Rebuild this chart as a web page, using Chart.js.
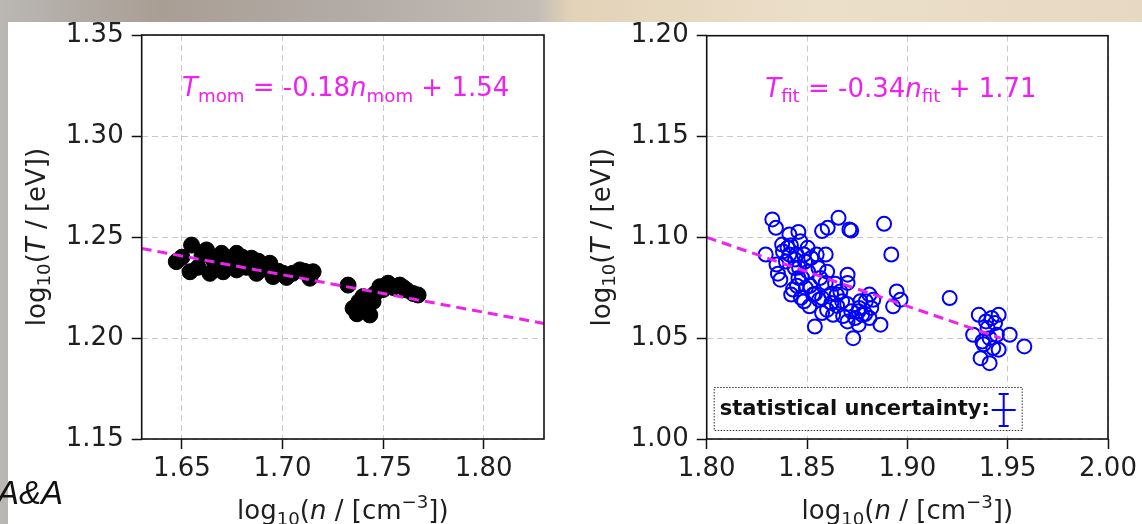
<!DOCTYPE html>
<html lang="en">
<head>
<meta charset="UTF-8">
<title>Temperature vs density</title>
<script src="https://cdn.jsdelivr.net/npm/chart.js"></script>
<style>
  html, body { margin: 0; padding: 0; }
  body {
    width: 1142px; height: 524px; overflow: hidden; position: relative;
    background: linear-gradient(90deg, #bab7b4 0%, #a99e94 14%, #b2aba5 30%, #c3bdb6 47%, #e2d2b8 50%, #ecdfca 72%, #e6d8c2 100%);
  }
  .sheet { position: absolute; left: 8px; top: 22px; right: 0; bottom: 0; background: #fff; }
  canvas { position: absolute; top: 0; }
  #left { left: 0; }
  #right { left: 570px; }
  .journal { position: absolute; left: -3px; top: 474px; font: italic 33px "Liberation Sans", Arial, sans-serif; color: #111; }
</style>
</head>
<body>
<div class="sheet"></div>
<canvas id="left" width="570" height="524"></canvas>
<canvas id="right" width="572" height="524"></canvas>
<div class="journal">A&amp;A</div>

<script>
// left panel: moments
const leftN = [1.6472, 1.6500, 1.6548, 1.6540, 1.6580, 1.6600, 1.6622, 1.6639, 1.6660, 1.6680, 1.6697, 1.6705,
  1.6730, 1.6750, 1.6772, 1.6772, 1.6800, 1.6820, 1.6846, 1.6871, 1.6880, 1.6900, 1.6937, 1.6953, 1.6980,
  1.7003, 1.7020, 1.7050, 1.7086, 1.7110, 1.7136, 1.7152,
  1.7326, 1.7351, 1.7370, 1.7380, 1.7400, 1.7420, 1.7434, 1.7450, 1.7460, 1.7484, 1.7500, 1.7525, 1.7550,
  1.7583, 1.7600, 1.7616, 1.7650, 1.7674];
const leftT = [1.2378, 1.2400, 1.2460, 1.2328, 1.2350, 1.2410, 1.2436, 1.2320, 1.2380, 1.2350, 1.2419, 1.2328,
  1.2390, 1.2360, 1.2419, 1.2337, 1.2400, 1.2350, 1.2395, 1.2320, 1.2380, 1.2340, 1.2370, 1.2304, 1.2330,
  1.2320, 1.2300, 1.2320, 1.2337, 1.2330, 1.2296, 1.2328,
  1.2262, 1.2147, 1.2120, 1.2180, 1.2205, 1.2150, 1.2114, 1.2180, 1.2220, 1.2254, 1.2240, 1.2271, 1.2250,
  1.2262, 1.2250, 1.2238, 1.2220, 1.2213];
const leftFitN = [1.63, 1.83];
const leftFitT = [1.2443, 1.2072];
const leftXTicks = [1.65, 1.70, 1.75, 1.80];
const leftYTicks = [1.15, 1.20, 1.25, 1.30, 1.35];

// right panel: fitted
const rightN = [1.8327, 1.8345, 1.8294, 1.8376, 1.8348, 1.8367, 1.8412, 1.8457, 1.8412, 1.8439, 1.8421, 1.8485,
  1.8503, 1.8521, 1.8457, 1.8494, 1.8485, 1.8530, 1.8512, 1.8575, 1.8539, 1.8557, 1.8593, 1.8566, 1.8575,
  1.8603, 1.8657, 1.8711, 1.8720, 1.8575, 1.8630, 1.8666, 1.8702, 1.8702, 1.8675, 1.8720, 1.8702, 1.8730,
  1.8757, 1.8766, 1.8775, 1.8811, 1.8820, 1.8811, 1.8866, 1.8884, 1.8920, 1.8947, 1.8966, 1.8929,
  1.8403, 1.8448, 1.8466, 1.8548, 1.8430, 1.8593, 1.8621, 1.8648, 1.8757, 1.8793,
  1.8380, 1.8395, 1.8420, 1.8440, 1.8460, 1.8475, 1.8490, 1.8505, 1.8450, 1.8470, 1.8515, 1.8540, 1.8560,
  1.8600, 1.8620, 1.8650, 1.8680, 1.8700, 1.8740, 1.8760, 1.8790, 1.8830, 1.8600, 1.8640, 1.8355,
  1.9211, 1.9356, 1.9328, 1.9374, 1.9392, 1.9365, 1.9410, 1.9428, 1.9446, 1.9455, 1.9437, 1.9455, 1.9510,
  1.9583, 1.9410, 1.9400, 1.9420, 1.9380];
const rightT = [1.1089, 1.1047, 1.0915, 1.0964, 1.0865, 1.0790, 1.1014, 1.1027, 1.0915, 1.0848, 1.0716, 1.0915,
  1.0948, 1.0898, 1.0799, 1.0749, 1.0683, 1.0716, 1.0658, 1.0699, 1.0558, 1.0848, 1.0915, 1.0799, 1.1031,
  1.1047, 1.1097, 1.1039, 1.1034, 1.0625, 1.0616, 1.0732, 1.0815, 1.0774, 1.0683, 1.0633, 1.0583, 1.0500,
  1.0567, 1.0683, 1.0616, 1.0716, 1.0650, 1.0600, 1.0567, 1.1067, 1.0915, 1.0732, 1.0691, 1.0658,
  1.0948, 1.0915, 1.0981, 1.0915, 1.0741, 1.0774, 1.0674, 1.0716, 1.0633, 1.0683,
  1.0930, 1.0880, 1.0960, 1.0890, 1.0850, 1.0800, 1.0880, 1.0830, 1.0760, 1.0700, 1.0760, 1.0720, 1.0690,
  1.0640, 1.0720, 1.0660, 1.0610, 1.0670, 1.0600, 1.0650, 1.0620, 1.0690, 1.0830, 1.0770, 1.0820,
  1.0699, 1.0616, 1.0517, 1.0484, 1.0583, 1.0401, 1.0376, 1.0451, 1.0517, 1.0616, 1.0575, 1.0443, 1.0517,
  1.0459, 1.0500, 1.0550, 1.0600, 1.0470];
const rightFitN = [1.80, 1.9465];
const rightFitT = [1.1000, 1.0500];
const rightXTicks = [1.80, 1.85, 1.90, 1.95, 2.00];
const rightYTicks = [1.00, 1.05, 1.10, 1.15, 1.20];

const FONT = '"DejaVu Sans", sans-serif';
const MAGENTA = '#ee22ee';

const pairs = (xs, ys) => xs.map((x, i) => ({ x: x, y: ys[i] }));

function fontFor(kind, size) {
  if (kind === 'it') return 'italic ' + size + 'px ' + FONT;
  if (kind === 'b') return 'bold ' + size + 'px ' + FONT;
  if (kind === 'sub' || kind === 'sup') return (size * 0.7) + 'px ' + FONT;
  return size + 'px ' + FONT;
}

// parts: [text, kind]; x is the centre, y the baseline
function drawRich(ctx, parts, x, y, size, color) {
  let w = 0;
  parts.forEach(p => { ctx.font = fontFor(p[1], size); w += ctx.measureText(p[0]).width; });
  let cx = x - w / 2;
  ctx.fillStyle = color;
  ctx.textAlign = 'left';
  ctx.textBaseline = 'alphabetic';
  parts.forEach(p => {
    ctx.font = fontFor(p[1], size);
    let dy = 0;
    if (p[1] === 'sub') dy = size * 0.22;
    if (p[1] === 'sup') dy = -size * 0.42;
    ctx.fillText(p[0], cx, y + dy);
    cx += ctx.measureText(p[0]).width;
  });
  return w;
}

const xTitle = [['log', 'n'], ['10', 'sub'], ['(', 'n'], ['n', 'it'], [' / [cm', 'n'], ['\u22123', 'sup'], ['])', 'n']];
const yTitle = [['log', 'n'], ['10', 'sub'], ['(', 'n'], ['T', 'it'], [' / [eV])', 'n']];

const framePlugin = {
  id: 'frame',
  afterDraw(chart, args, opts) {
    const ctx = chart.ctx;
    const ca = chart.chartArea;
    ctx.save();
    ctx.strokeStyle = '#111';
    ctx.lineWidth = 1.6;
    ctx.setLineDash([]);
    ctx.strokeRect(ca.left, ca.top, ca.right - ca.left, ca.bottom - ca.top);

    drawRich(ctx, xTitle, (ca.left + ca.right) / 2, 519, 26, '#1e1e1e');
    ctx.save();
    ctx.translate(ca.left - 97, (ca.top + ca.bottom) / 2);
    ctx.rotate(-Math.PI / 2);
    drawRich(ctx, yTitle, 0, 0, 26, '#1e1e1e');
    ctx.restore();

    const n = opts.note;
    drawRich(ctx, n.parts, ca.left + (ca.right - ca.left) * n.fx, ca.top + n.dy, 26, MAGENTA);

    if (opts.uncertainty) {
      const bx = ca.left + 7, bw = 308, bh = 43, by = ca.bottom - 9 - bh;
      ctx.fillStyle = '#fff';
      ctx.fillRect(bx, by, bw, bh);
      ctx.strokeStyle = '#333';
      ctx.lineWidth = 1;
      ctx.setLineDash([1.5, 1.5]);
      ctx.strokeRect(bx + 0.5, by + 0.5, bw, bh);
      ctx.setLineDash([]);
      ctx.font = 'bold 21px ' + FONT;
      ctx.fillStyle = '#111';
      ctx.textAlign = 'left';
      ctx.textBaseline = 'alphabetic';
      ctx.fillText('statistical uncertainty:', bx + 6, by + 28);
      const ex = bx + 290, ey = by + 23;
      ctx.strokeStyle = '#0000ff';
      ctx.lineWidth = 2;
      ctx.beginPath();
      ctx.moveTo(ex - 12, ey); ctx.lineTo(ex + 12, ey);
      ctx.moveTo(ex, ey - 16); ctx.lineTo(ex, ey + 16);
      ctx.moveTo(ex - 5, ey - 16); ctx.lineTo(ex + 5, ey - 16);
      ctx.moveTo(ex - 5, ey + 16); ctx.lineTo(ex + 5, ey + 16);
      ctx.stroke();
    }
    ctx.restore();
  }
};

function axis(min, max, ticks, size, isX) {
  return {
    type: 'linear',
    min: min,
    max: max,
    afterBuildTicks: s => { s.ticks = ticks.map(v => ({ value: v })); },
    afterFit: s => { if (isX) s.height = size; else s.width = size; },
    ticks: {
      callback: v => v.toFixed(2),
      font: { family: FONT, size: 26 },
      color: '#1e1e1e',
      padding: isX ? 5 : 8,
      maxRotation: 0,
      autoSkip: false
    },
    grid: { color: '#c9c9c9', lineWidth: 1, tickLength: 10, tickColor: '#111', tickWidth: 1.5, tickBorderDash: [] },
    border: { display: false, dash: [6, 4] }
  };
}

function makeChart(id, pts, fit, pointStyle, xr, yr, pad, yWidth, note, uncertainty) {
  new Chart(document.getElementById(id), {
    type: 'scatter',
    data: {
      datasets: [
        { data: fit, showLine: true, borderColor: MAGENTA, borderWidth: 3, borderDash: [10, 6], pointRadius: 0, order: 0 },
        Object.assign({ data: pts, order: 1 }, pointStyle)
      ]
    },
    options: {
      responsive: false,
      animation: false,
      events: [],
      layout: { padding: pad },
      plugins: {
        legend: { display: false },
        tooltip: { enabled: false },
        frame: { note: note, uncertainty: uncertainty }
      },
      scales: {
        x: axis(xr[0], xr[1], xr[2], 85, true),
        y: axis(yr[0], yr[1], yr[2], yWidth, false)
      }
    },
    plugins: [framePlugin]
  });
}

makeChart('left', pairs(leftN, leftT), pairs(leftFitN, leftFitT),
  { backgroundColor: '#000', borderColor: '#000', borderWidth: 1, pointRadius: 8 },
  [1.63, 1.83, leftXTicks], [1.15, 1.35, leftYTicks],
  { top: 35, right: 26, left: 0, bottom: 0 }, 141.7,
  { parts: [['T', 'it'], ['mom', 'sub'], [' = -0.18', 'n'], ['n', 'it'], ['mom', 'sub'], [' + 1.54', 'n']], fx: 0.507, dy: 61 },
  false);

makeChart('right', pairs(rightN, rightT), pairs(rightFitN, rightFitT),
  { backgroundColor: 'rgba(0,0,0,0)', borderColor: '#0000ff', borderWidth: 2, pointRadius: 7 },
  [1.80, 2.00, rightXTicks], [1.00, 1.20, rightYTicks],
  { top: 35.7, right: 34, left: 0, bottom: 0 }, 136.7,
  { parts: [['T', 'it'], ['fit', 'sub'], [' = -0.34', 'n'], ['n', 'it'], ['fit', 'sub'], [' + 1.71', 'n']], fx: 0.484, dy: 61 },
  true);
</script>
</body>
</html>
